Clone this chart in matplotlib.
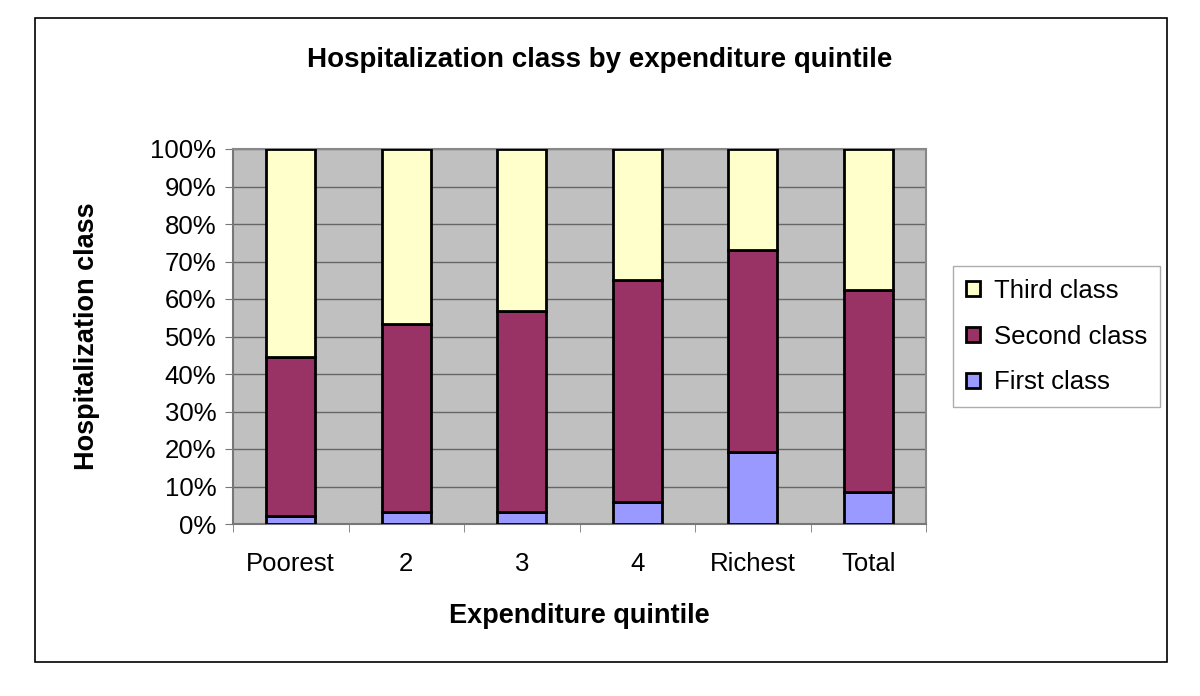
import matplotlib
matplotlib.use('Agg')
import matplotlib.pyplot as plt
import numpy as np
from matplotlib.patches import Rectangle
from matplotlib.ticker import PercentFormatter

plt.rcParams['font.family'] = ['Liberation Sans', 'DejaVu Sans']

categories = ['Poorest', '2', '3', '4', 'Richest', 'Total']
first_class = [2.1, 3.2, 3.2, 6.0, 19.2, 8.5]
second_class = [42.4, 50.1, 53.5, 59.2, 53.8, 54.0]
third_class = [55.5, 46.7, 43.3, 34.8, 27.0, 37.5]

fig = plt.figure(figsize=(12, 6.96), dpi=100)
fig.patches.append(Rectangle((35 / 1200, 1 - 662 / 696), 1132 / 1200, 644 / 696,
                             transform=fig.transFigure, fill=False,
                             edgecolor='black', linewidth=1.2))

ax = fig.add_axes([233 / 1200, 1 - 524 / 696, 693 / 1200, 375 / 696])
ax.set_facecolor('#C0C0C0')

x = np.arange(len(categories))
w = 0.42
b1 = ax.bar(x, first_class, w, color='#9999FF', edgecolor='black', linewidth=2,
            label='First class', zorder=3)
bottom2 = np.array(first_class)
b2 = ax.bar(x, second_class, w, bottom=bottom2, color='#993366', edgecolor='black',
            linewidth=2, label='Second class', zorder=3)
bottom3 = bottom2 + np.array(second_class)
b3 = ax.bar(x, third_class, w, bottom=bottom3, color='#FFFFCC', edgecolor='black',
            linewidth=2, label='Third class', zorder=3)

ax.set_xlim(-0.5, len(categories) - 0.5)
ax.set_ylim(0, 100)
ax.set_yticks(np.arange(0, 101, 10))
ax.yaxis.set_major_formatter(PercentFormatter(decimals=0))
ax.yaxis.grid(True, color='#666666', linewidth=1, zorder=0)
ax.set_axisbelow(True)

ax.set_xticks(x)
ax.set_xticklabels(categories, fontsize=18.5)
ax.set_xticks(np.arange(-0.5, len(categories), 1), minor=True)
ax.tick_params(axis='x', which='major', length=0, pad=20.5)
ax.tick_params(axis='x', which='minor', length=6, color='#777777')
ax.tick_params(axis='y', labelsize=18.5, length=6, color='#777777', pad=6)

for s in ['top', 'right']:
    ax.spines[s].set_color('#888888')
for s in ['left', 'bottom']:
    ax.spines[s].set_color('#777777')
for s in ax.spines.values():
    s.set_linewidth(1.5)

ax.set_xlabel('Expenditure quintile', fontsize=19.5, fontweight='bold', labelpad=19)
ax.set_ylabel('Hospitalization class', fontsize=19.5, fontweight='bold', labelpad=36)

fig.text(600 / 1200, 1 - 60 / 696, 'Hospitalization class by expenditure quintile',
         ha='center', va='center', fontsize=20, fontweight='bold')

leg = ax.legend(handles=[b3, b2, b1], loc='center left', bbox_to_anchor=(1.039, 0.5),
                fontsize=18.5, frameon=True, fancybox=False, edgecolor='#999999',
                handlelength=0.55, handleheight=0.55, labelspacing=0.85,
                borderpad=0.5, handletextpad=0.55, borderaxespad=0)
leg.get_frame().set_linewidth(1)

fig.savefig('out.png', dpi=100, facecolor='white')
